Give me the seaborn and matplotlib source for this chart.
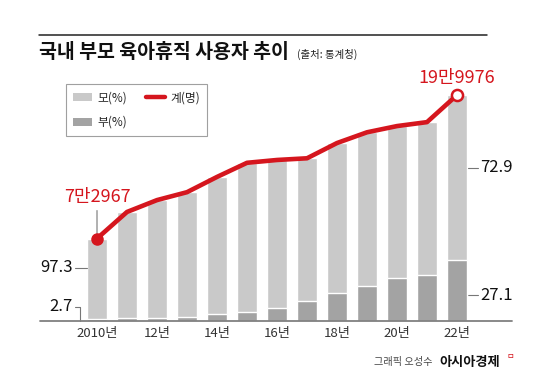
import numpy as np
import pandas as pd
import matplotlib.pyplot as plt
from matplotlib.patches import Patch
from matplotlib.lines import Line2D
import seaborn as sns

# 데이터
years = [2010, 2011, 2012, 2013, 2014, 2015, 2016, 2017, 2018, 2019, 2020, 2021, 2022]
total = [72967, 96500, 107000, 114000, 127500, 140000, 142500, 144000, 157500, 167000, 172500, 176000, 199976]
father_pct = [2.7, 2.8, 2.6, 3.3, 5.0, 5.6, 8.2, 12.3, 15.8, 18.8, 22.2, 23.2, 27.1]
tick_labels = ["2010년", "12년", "14년", "16년", "18년", "20년", "22년"]

df = pd.DataFrame({"year": years, "total": total, "father_pct": father_pct})
df["father"] = df["total"] * df["father_pct"] / 100
df["pos"] = np.arange(len(df))

light = "#c9c9c9"
dark = "#a3a3a3"
red = "#d5161e"

sns.set_style("white")
plt.rcParams["font.family"] = ["Noto Sans CJK KR", "DejaVu Sans"]

W, H = 550, 376
fig = plt.figure(figsize=(5.5, 3.76), dpi=100)
ax = fig.add_axes([40 / W, 1 - 321 / H, (512 - 40) / W, (321 - 60) / H])

# 막대: 전체(모) 위에 부 비율 부분을 겹쳐 그림
sns.barplot(data=df, x="year", y="total", color=light, width=0.667,
            saturation=1, ax=ax, zorder=2)
sns.barplot(data=df, x="year", y="father", color=dark, width=0.667,
            saturation=1, ax=ax, zorder=3)

# 계(명) 선
sns.lineplot(data=df, x="pos", y="total", color=red, lw=3.3, ax=ax, zorder=4)
ax.plot(df["pos"].iloc[0], df["total"].iloc[0], "o", color=red, ms=8, zorder=5)
ax.plot(df["pos"].iloc[-1], df["total"].iloc[-1], "o", mfc="white", mec=red,
        mew=1.8, ms=8, zorder=5)

ax.set_xlim(-1.9, 13.833)
ax.set_ylim(0, 261 / 0.00113)
for s in ax.spines.values():
    s.set_visible(False)
ax.axhline(0, color="#808080", lw=1.3, zorder=6, clip_on=False)
ax.set_yticks([])
ax.set_xticks(range(0, len(years), 2))
ax.set_xticklabels(tick_labels, fontsize=9.5, color="#333333")
ax.tick_params(axis="x", length=0, pad=4.5)
ax.set_xlabel("")
ax.set_ylabel("")

# 라벨
ax.annotate("7만2967", xy=(0, total[0]), xytext=(0, 30), textcoords="offset points",
            ha="center", va="center", fontsize=13, color=red,
            arrowprops=dict(arrowstyle="-", color="#777777", lw=0.8, shrinkA=1, shrinkB=0))
ax.annotate("19만9976", xy=(len(years) - 1, total[-1]), xytext=(0, 12.5),
            textcoords="offset points", ha="center", va="center", fontsize=13, color=red)

# 비율 표시
ax.plot([-0.733, -0.333], [47000, 47000], color="#777777", lw=0.8, clip_on=False)
ax.text(-0.8, 47000, "97.3", ha="right", va="center", fontsize=12, color="#111111")
ax.plot([-0.733, -0.567, -0.567], [12400, 12400, 0], color="#777777", lw=0.8, clip_on=False)
ax.text(-0.8, 12400, "2.7", ha="right", va="center", fontsize=12, color="#111111")
ax.plot([12.37, 12.7], [135400, 135400], color="#777777", lw=0.8, clip_on=False)
ax.text(12.77, 135400, "72.9", ha="left", va="center", fontsize=12, color="#111111")
ax.plot([12.37, 12.7], [23000, 23000], color="#777777", lw=0.8, clip_on=False)
ax.text(12.77, 23000, "27.1", ha="left", va="center", fontsize=12, color="#111111")

# 범례
handles = [Patch(facecolor=light, edgecolor="none", label="모(%)"),
           Patch(facecolor=dark, edgecolor="none", label="부(%)"),
           Line2D([], [], color=red, lw=3.2, label="계(명)")]
leg = fig.legend(handles=handles, ncol=2, loc="upper left",
                 bbox_to_anchor=(66 / W, 1 - 84 / H), fontsize=8.5, frameon=True,
                 fancybox=False, borderpad=0.6, handlelength=1.6, handleheight=0.68,
                 handletextpad=0.45, columnspacing=1.6, labelspacing=1.0, borderaxespad=0)
leg.get_frame().set_edgecolor("#888888")
leg.get_frame().set_linewidth(0.8)

# 제목
fig.add_artist(Line2D([39 / W, 487 / W], [1 - 35 / H, 1 - 35 / H], color="#222222", lw=1.1))
fig.text(39 / W, 1 - 53 / H, "국내 부모 육아휴직 사용자 추이", fontsize=14,
         fontweight="bold", va="center", ha="left", color="#111111")
fig.text(297 / W, 1 - 54 / H, "(출처: 통계청)", fontsize=7.5, va="center", ha="left",
         color="#222222")

# 출처
fig.text(433 / W, 1 - 362 / H, "그래픽 오성수", fontsize=7.3, va="center", ha="right",
         color="#444444")
fig.text(439 / W, 1 - 362 / H, "아시아경제", fontsize=9.5, fontweight="bold",
         va="center", ha="left", color="#111111")
fig.text(506 / W, 1 - 356 / H, "ㅁ", fontsize=6, va="center", ha="left", color=red)

fig.savefig("out.png", dpi=100)
